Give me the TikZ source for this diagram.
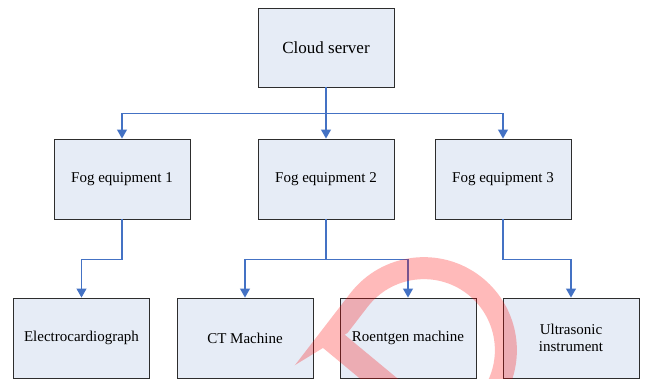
\documentclass[tikz,border=0pt]{standalone}
\usepackage{fontspec}
\setmainfont{Liberation Serif}
\usetikzlibrary{arrows.meta}
\definecolor{boxfill}{RGB}{230,236,246}
\definecolor{connblue}{RGB}{68,114,196}
\definecolor{boxline}{RGB}{45,45,45}
\tikzset{
  unit/.style={draw=boxline, line width=0.9pt, fill=boxfill, minimum width=136pt,
    minimum height=80pt, inner sep=0pt, align=center,
    font=\fontsize{15}{17.3}\selectfont},
  link/.style={draw=connblue, line width=1.1pt, -{Triangle[width=10pt,length=9pt]}},
  mark band/.style={draw=red, line width=22pt},
}
\begin{document}
\begin{tikzpicture}[x=1pt,y=1pt]
\useasboundingbox (0,0) rectangle (645,378);
% nodes
\node[unit, minimum height=79pt, font=\fontsize{17}{20}\selectfont] (cloud) at (326,330.5) {Cloud server};
\node[unit] (f1) at (122,199) {Fog equipment 1};
\node[unit] (f2) at (326,199) {Fog equipment 2};
\node[unit] (f3) at (503,199) {Fog equipment 3};
\node[unit] (ecg) at (81.5,40) {Electrocardiograph};
\node[unit] (ct) at (245,40) {CT Machine};
\node[unit] (ro) at (408,40) {Roentgen machine};
\node[unit] (us) at (571,40) {Ultrasonic\\instrument};
% connectors
\draw[link] (cloud.south) -- ++(0,-26) -| (f1.north);
\draw[link] (cloud.south) -- (f2.north);
\draw[link] (cloud.south) -- ++(0,-26) -| (f3.north);
\draw[link] (f1.south) -- ++(0,-40) -| (ecg.north);
\draw[link] (f2.south) -- ++(0,-40) -| (ct.north);
\draw[link] (f2.south) -- ++(0,-40) -| (ro.north);
\draw[link] (f3.south) -- ++(0,-40) -| (us.north);
% watermark
\begin{scope}[opacity=0.27]
 \begin{scope}[transparency group]
  \begin{scope}
   \clip (250,-14.6) -- (360,52.7) -- (360,-50) -- (700,-50) -- (700,400) -- (250,400) -- cycle;
   \draw[mark band] (297.4,-2) -- (359,78) arc[start angle=142.3, end angle=-25, radius=82];
  \end{scope}
  \draw[mark band, line width=24pt] (325,44) -- (395,-14);
 \end{scope}
\end{scope}
\end{tikzpicture}
\end{document}
